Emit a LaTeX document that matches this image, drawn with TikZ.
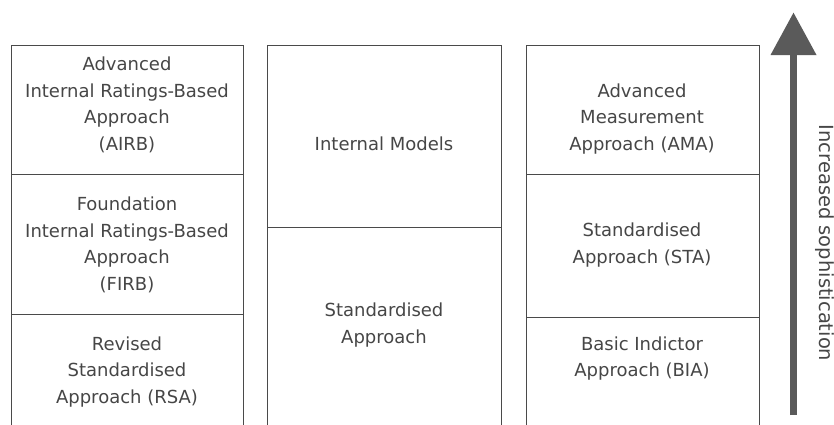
\documentclass[tikz,border=0pt]{standalone}
\usepackage{fontspec}
\setmainfont{DejaVu Sans}
\definecolor{rule}{HTML}{4A4A4A}
\definecolor{ink}{HTML}{464646}
\definecolor{shaft}{HTML}{5A5A5A}
% stacked lines whose baseline is that of the first line
\newcommand{\stk}[1]{\begin{tabular}[t]{@{}c@{}}#1\end{tabular}}
\tikzset{
  cell/.style={draw=rule, line width=1.4pt, anchor=north west, inner sep=0pt},
  label/.style={anchor=base, inner sep=0pt, text=ink,
    font=\fontsize{18}{26.5}\selectfont},
}
\begin{document}
\begin{tikzpicture}[x=1pt, y=-1pt]
\useasboundingbox (0,0) rectangle (834,424);
\clip (0,0) rectangle (834,424);

% credit risk column
\node[cell, minimum width=232pt, minimum height=129.3pt] (c1a) at (11,44.7) {};
\node[cell, minimum width=232pt, minimum height=140pt]   (c1b) at (11,174) {};
\node[cell, minimum width=232pt, minimum height=120pt]   (c1c) at (11,314) {};
\node[label] (t1a) at (127,70.7)  {\stk{Advanced\\Internal Ratings-Based\\Approach\\(AIRB)}};
\node[label] (t1b) at (127,210.7) {\stk{Foundation\\Internal Ratings-Based\\Approach\\(FIRB)}};
\node[label] (t1c) at (127,350)   {\stk{Revised\\Standardised\\Approach (RSA)}};

% market risk column
\node[cell, minimum width=234pt, minimum height=182.3pt] (c2a) at (267,44.7) {};
\node[cell, minimum width=234pt, minimum height=207pt]   (c2b) at (267,227) {};
\node[label] (t2a) at (384,150.7) {\stk{Internal Models}};
\node[label] (t2b) at (384,316.7) {\stk{Standardised\\Approach}};

% operational risk column
\node[cell, minimum width=233pt, minimum height=129.3pt] (c3a) at (526,44.7) {};
\node[cell, minimum width=233pt, minimum height=143pt]   (c3b) at (526,174) {};
\node[cell, minimum width=233pt, minimum height=117pt]   (c3c) at (526,317) {};
\node[label] (t3a) at (642,97.3)  {\stk{Advanced\\Measurement\\Approach (AMA)}};
\node[label] (t3b) at (642,236.7) {\stk{Standardised\\Approach (STA)}};
\node[label] (t3c) at (642,350)   {\stk{Basic Indictor\\Approach (BIA)}};

% sophistication arrow
\coordinate (tail) at (793,415);
\coordinate (neck) at (793,55);
\coordinate (tip)  at (793.5,12.7);
\draw[shaft, line width=7pt] (tail) -- (neck);
\fill[shaft] (770.5,55) -- (tip) -- (816.5,55) -- cycle;
\node[rotate=-90, anchor=base, inner sep=0pt, text=ink,
      font=\fontsize{19.5}{24}\selectfont] (soph) at (819.5,243) {Increased sophistication};
\end{tikzpicture}
\end{document}
